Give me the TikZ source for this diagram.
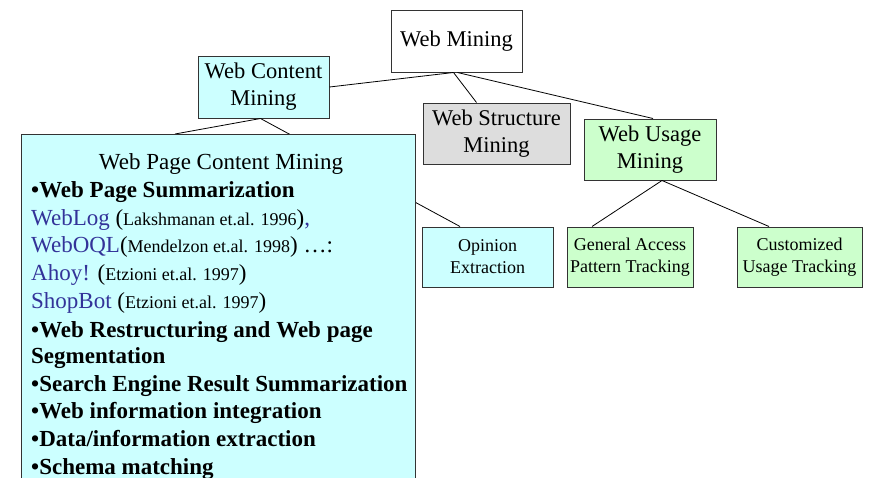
\documentclass[tikz,border=0pt]{standalone}
\usepackage{fontspec}
\setmainfont{Liberation Serif}
\definecolor{cyanfill}{HTML}{CCFFFF}
\definecolor{grayfill}{HTML}{DDDDDD}
\definecolor{greenfill}{HTML}{CCFFCC}
\definecolor{linkblue}{HTML}{333399}
\definecolor{boxline}{HTML}{333333}
\newcommand\smtxt[1]{{\fontsize{18}{20}\selectfont #1}}
\newcommand\bl[1]{\textcolor{linkblue}{#1}}
\begin{document}
\begin{tikzpicture}[x=1pt,y=-1pt,
  box/.style={draw=boxline,line width=1pt,align=center,inner sep=0pt,font=\fontsize{22.5}{27}\selectfont},
  smallbox/.style={draw=boxline,line width=1pt,align=center,inner sep=0pt,fill=#1,font=\fontsize{18}{22}\selectfont},
  conn/.style={draw=black,line width=0.8pt},
  biglbl/.style={anchor=base west,inner sep=0pt,font=\fontsize{23}{27}\selectfont},
]
\useasboundingbox (0,0) rectangle (872,477);
\clip (0,0) rectangle (872,477);
% nodes
\node[box,fill=white,minimum width=131pt,minimum height=62pt] (wm) at (456.5,41) {Web Mining};
\node[box,fill=cyanfill,minimum width=131pt,minimum height=62pt] (wcm) at (263.5,87) {Web Content\\Mining};
\node[box,fill=grayfill,minimum width=147pt,minimum height=61pt] (wsm) at (496.5,133.5) {Web Structure\\Mining};
\node[box,fill=greenfill,minimum width=132pt,minimum height=61pt] (wum) at (650,149.5) {Web Usage\\Mining};
\node[smallbox=cyanfill,minimum width=131pt,minimum height=60pt] (op) at (487.5,257) {Opinion\\Extraction};
\node[smallbox=greenfill,minimum width=126pt,minimum height=60pt] (ga) at (630,257) {General Access\\Pattern Tracking};
\node[smallbox=greenfill,minimum width=125pt,minimum height=60pt] (cu) at (799.5,257) {Customized\\Usage Tracking};
\coordinate (hid) at (175,134);
% connectors (behind the big box)
\begin{scope}[on background layer/.style={}]
\draw[conn] ([xshift=-3pt]wm.south) -- (wcm.east);
\draw[conn] ([xshift=-3pt]wm.south) -- ([xshift=-20pt]wsm.north);
\draw[conn] ([xshift=1pt]wm.south) -- ([xshift=3pt]wum.north);
\draw[conn] ([xshift=-3pt]wcm.south) -- (hid);
\draw[conn] ([xshift=-3pt]wcm.south) -- ([xshift=-27.5pt]op.north);
\draw[conn] ([xshift=12pt]wum.south) -- ([xshift=-38pt]ga.north);
\draw[conn] ([xshift=12pt]wum.south) -- ([xshift=-30.5pt]cu.north);
\end{scope}
% big box
\node[draw=boxline,line width=1pt,fill=cyanfill,inner sep=0pt,minimum width=394pt,minimum height=356pt,anchor=north west] (wpcm) at (21,134) {};
\node[anchor=base,inner sep=0pt,font=\fontsize{23}{27}\selectfont] (t0) at (221,169) {Web Page Content Mining};
\node[biglbl] (t1) at (31,197) {\textbf{•Web Page Summarization}};
\node[biglbl] (t2) at (31,225) {\bl{WebLog} (\smtxt{Lakshmanan et.al. 1996})\bl{,}};
\node[biglbl] (t3) at (31,252) {\bl{WebOQL}(\smtxt{Mendelzon et.al. 1998}) …:};
\node[biglbl] (t4) at (31,280) {\bl{Ahoy!} (\smtxt{Etzioni et.al. 1997})};
\node[biglbl] (t5) at (31,308) {\bl{ShopBot} (\smtxt{Etzioni et.al. 1997})};
\node[biglbl] (t6) at (31,337) {\textbf{•Web Restructuring and Web page}};
\node[biglbl] (t7) at (31,363) {\textbf{Segmentation}};
\node[biglbl] (t8) at (31,391) {\textbf{•Search Engine Result Summarization}};
\node[biglbl] (t9) at (31,418) {\textbf{•Web information integration}};
\node[biglbl] (t10) at (31,446) {\textbf{•Data/information extraction}};
\node[biglbl] (t11) at (31,474) {\textbf{•Schema matching}};
\end{tikzpicture}
\end{document}
